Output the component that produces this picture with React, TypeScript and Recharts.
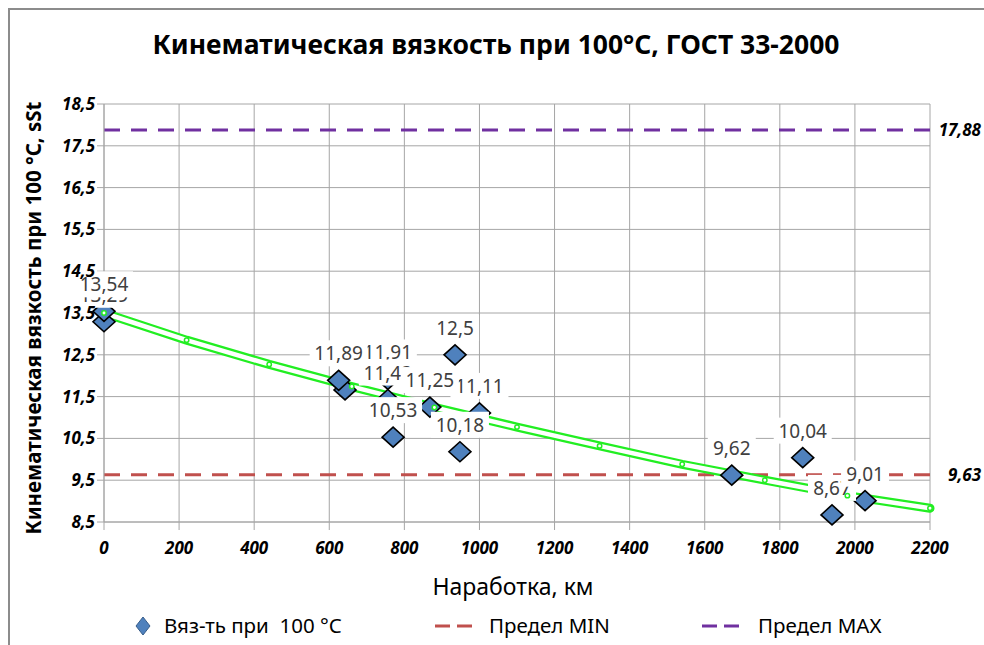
import React from "react";
import {
  CartesianGrid,
  ComposedChart,
  Line,
  ReferenceLine,
  Scatter,
  XAxis,
  YAxis
} from "recharts";

// measured points (km, viscosity) and their data labels
const POINT_KM = [0, 0, 642, 756, 625, 756, 1000, 868, 770, 935, 948, 1672, 1861, 1939, 2027];
const POINT_VISC = [13.29, 13.54, 11.66, 11.91, 11.89, 11.43, 11.11, 11.25, 10.53, 12.5, 10.18, 9.62, 10.04, 8.67, 9.01];
const POINT_LABELS = ["13,29", "13,54", "", "11,91", "11,89", "11,43", "11,11", "11,25", "10,53", "12,5", "10,18", "9,62", "10,04", "8,67", "9,01"];

// trend line
const TREND_KM = [0, 220, 440, 660, 880, 1100, 1320, 1540, 1760, 1980, 2200];
const TREND_VISC = [13.5, 12.85, 12.27, 11.74, 11.24, 10.77, 10.32, 9.88, 9.5, 9.13, 8.83];

const LIMIT_MIN = 9.63;
const LIMIT_MAX = 17.88;

const X_TICKS = [0, 200, 400, 600, 800, 1000, 1200, 1400, 1600, 1800, 2000, 2200];
const Y_TICKS = [8.5, 9.5, 10.5, 11.5, 12.5, 13.5, 14.5, 15.5, 16.5, 17.5, 18.5];

const points = POINT_KM.map((x, i) => ({ x, y: POINT_VISC[i], label: POINT_LABELS[i] }));
const trend = TREND_KM.map((x, i) => ({ x, y: TREND_VISC[i] }));

const FONT = "'Noto Sans', sans-serif";
const GREEN = "#22ee22";
const GRID = "#a6a6a6";
const tickStyle = { fill: "#000", fontSize: 17, fontWeight: 700, fontStyle: "italic", fontFamily: FONT };

const Diamond = (props: any) => {
  const { cx, cy } = props;
  if (cx == null || cy == null) return <g />;
  return (
    <polygon
      points={`${cx},${cy - 10} ${cx + 11},${cy} ${cx},${cy + 10} ${cx - 11},${cy}`}
      fill="#4F81BD"
      stroke="#000"
      strokeWidth={1.6}
    />
  );
};

const PointLabel = (props: any) => {
  const { cx, cy, payload } = props;
  const text: string = payload?.label ?? "";
  if (!text) return <g />;
  const w = text.length * 10 + 8;
  return (
    <g>
      <rect x={cx - w / 2} y={cy - 40} width={w} height={26} fill="#fff" />
      <text x={cx} y={cy - 20} textAnchor="middle" fontSize={19} fill="#404040" fontFamily={FONT}>
        {text}
      </text>
    </g>
  );
};

const limitLabel = (text: string) => (props: any) => {
  const vb = props.viewBox ?? {};
  return (
    <text x={981} y={(vb.y ?? 0) + 6} textAnchor="end" fontSize={17} fontWeight={700} fontStyle="italic" fill="#000" fontFamily={FONT}>
      {text}
    </text>
  );
};

const fmt = (v: number) => String(v).replace(".", ",");

export default function App() {
  return (
    <div style={{ position: "fixed", left: 0, top: 0, width: 984, height: 645, overflow: "hidden", background: "#fff", fontFamily: FONT }}>
      <div style={{ position: "absolute", left: 8, top: 8, width: 1100, height: 800, border: "2px solid #8c8c8c" }} />
      <div style={{ position: "absolute", left: 0, width: 992, top: 26, textAlign: "center", fontSize: 26.5, fontWeight: 700, color: "#000" }}>
        Кинематическая вязкость при 100°C, ГОСТ 33-2000
      </div>
      <div
        style={{
          position: "absolute",
          left: 33,
          top: 318,
          transform: "translate(-50%, -50%) rotate(-90deg)",
          whiteSpace: "nowrap",
          fontSize: 20.5,
          fontWeight: 700,
          color: "#000"
        }}
      >
        Кинематическая вязкость при 100 °C, sSt
      </div>
      <div style={{ position: "absolute", left: 0, width: 1026, top: 570, textAlign: "center", fontSize: 23, color: "#000" }}>
        Наработка, км
      </div>
      <ComposedChart
        width={984}
        height={645}
        margin={{ top: 104, right: 54, bottom: 93, left: 44 }}
        style={{ position: "absolute", left: 0, top: 0 }}
      >
        <CartesianGrid stroke={GRID} />
        <XAxis
          type="number"
          dataKey="x"
          domain={[0, 2200]}
          ticks={X_TICKS}
          height={30}
          stroke={GRID}
          tickSize={8}
          tickMargin={12}
          tick={tickStyle}
        />
        <YAxis
          type="number"
          dataKey="y"
          domain={[8.5, 18.5]}
          ticks={Y_TICKS}
          width={60}
          stroke={GRID}
          tickSize={7}
          tickMargin={2}
          tick={tickStyle}
          tickFormatter={fmt}
        />
        <ReferenceLine y={LIMIT_MIN} stroke="#C0504D" strokeWidth={3} strokeDasharray="16 11" label={limitLabel(fmt(LIMIT_MIN))} />
        <ReferenceLine y={LIMIT_MAX} stroke="#7030A0" strokeWidth={3} strokeDasharray="16 11" label={limitLabel(fmt(LIMIT_MAX))} />
        <Scatter data={points} dataKey="y" shape={Diamond} isAnimationActive={false} />
        <Scatter data={points} dataKey="y" shape={PointLabel} isAnimationActive={false} />
        <Line data={trend} dataKey="y" stroke={GREEN} strokeWidth={9} strokeLinecap="round" dot={false} isAnimationActive={false} />
        <Line
          data={trend}
          dataKey="y"
          stroke="#fff"
          strokeWidth={4.5}
          strokeLinecap="round"
          dot={{ r: 2.2, fill: "#fff", stroke: GREEN, strokeWidth: 1.5 }}
          isAnimationActive={false}
        />
      </ComposedChart>
      <svg style={{ position: "absolute", left: 0, top: 0 }} width={984} height={645}>
        <polygon points="143,617 150,626 143,635 136,626" fill="#4F81BD" stroke="#385D8A" strokeWidth={1} />
        <line x1={435} y1={626} x2={472} y2={626} stroke="#C0504D" strokeWidth={3} strokeDasharray="15 7" />
        <line x1={702} y1={626} x2={739} y2={626} stroke="#7030A0" strokeWidth={3} strokeDasharray="15 7" />
      </svg>
      <div style={{ position: "absolute", left: 164, top: 611, fontSize: 20.5, color: "#000", whiteSpace: "pre" }}>Вяз-ть при  100 °C</div>
      <div style={{ position: "absolute", left: 489, top: 611, fontSize: 20.5, color: "#000", whiteSpace: "pre" }}>Предел MIN</div>
      <div style={{ position: "absolute", left: 758, top: 611, fontSize: 20.5, color: "#000", whiteSpace: "pre" }}>Предел MAX</div>
    </div>
  );
}
